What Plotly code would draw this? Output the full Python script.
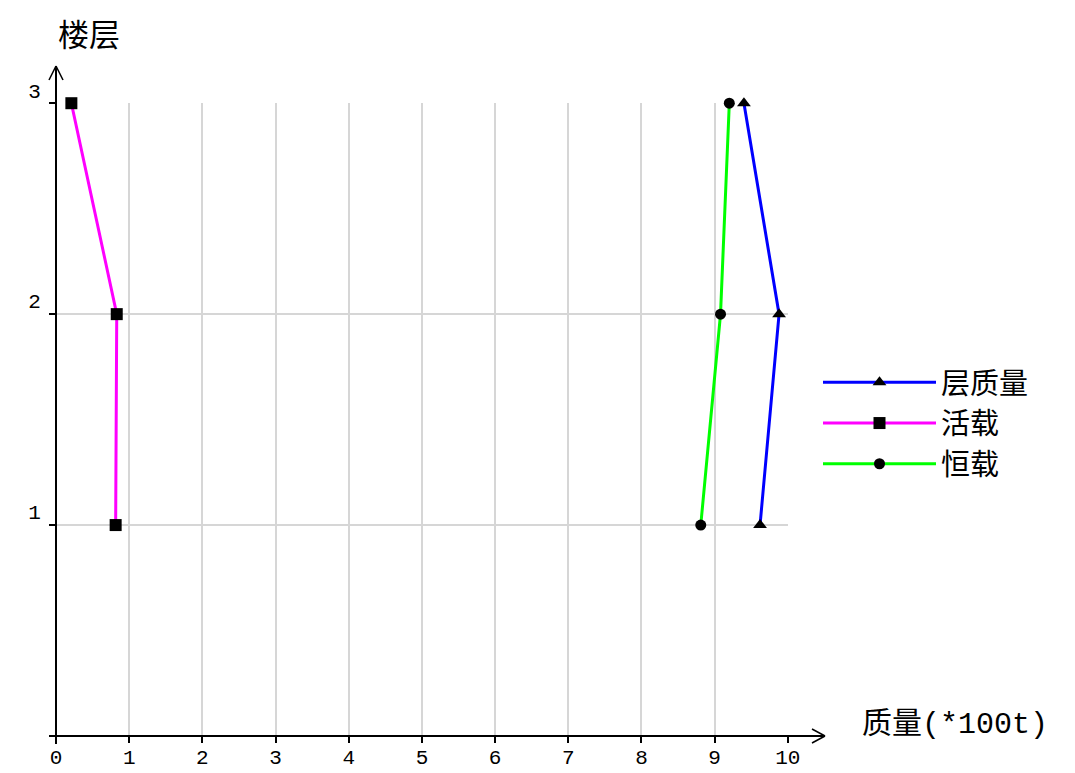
import plotly.graph_objects as go

floors = [1, 2, 3]
floor_mass = [9.62, 9.88, 9.40]   # 层质量
live_load = [0.815, 0.83, 0.21]   # 活载
dead_load = [8.81, 9.08, 9.20]    # 恒载
x_ticks = list(range(0, 11))
y_ticks = [1, 2, 3]

OFF = 8  # browser body margin
W, H = 1075 - OFF, 773 - OFF
# screen coordinates of plot area
SX0, SX1, SY0, SY1 = 56, 788, 103, 736
L, T = SX0 - OFF, SY0 - OFF
R = W - (SX1 - OFF)
B = H - (SY1 - OFF)
pw, ph = SX1 - SX0, SY1 - SY0

def px(xs):
    return (xs - SX0) / pw

def py(ys):
    return (SY1 - ys) / ph

fig = go.Figure()
fig.add_trace(go.Scatter(x=floor_mass, y=floors, name="层质量", mode="lines+markers",
                         line=dict(color="#0000ff", width=3),
                         marker=dict(symbol="triangle-up", size=12, color="black"), cliponaxis=False))
fig.add_trace(go.Scatter(x=live_load, y=floors, name="活载", mode="lines+markers",
                         line=dict(color="#ff00ff", width=3),
                         marker=dict(symbol="square", size=12, color="black"), cliponaxis=False))
fig.add_trace(go.Scatter(x=dead_load, y=floors, name="恒载", mode="lines+markers",
                         line=dict(color="#00ff00", width=3),
                         marker=dict(symbol="circle", size=11, color="black"), cliponaxis=False))

tickfont = dict(family="Liberation Mono, DejaVu Sans Mono, monospace", size=21, color="black")
fig.update_xaxes(range=[0, 10.002], tickvals=x_ticks, ticktext=[str(v) for v in x_ticks],
                 showgrid=True, gridcolor="#d6d6d6", gridwidth=1.5, zeroline=False,
                 showline=False, ticks="outside", ticklen=6, tickcolor="black", tickwidth=2,
                 tickfont=tickfont, ticklabelstandoff=-4, automargin=False)
fig.update_yaxes(range=[0, 3.001], tickvals=y_ticks, ticktext=[str(v) for v in y_ticks],
                 showgrid=True, gridcolor="#d6d6d6", gridwidth=1.5, zeroline=False,
                 showline=False, ticks="outside", ticklen=6, tickcolor="black", tickwidth=2,
                 tickfont=tickfont, ticklabelshift=-13, ticklabelstandoff=4, automargin=False)

shapes = []
lc = dict(color="black", width=2)
thin = dict(color="black", width=1.5)
# x axis with arrow
shapes.append(dict(type="line", xref="paper", yref="paper", x0=px(49), x1=px(825), y0=py(736), y1=py(736), line=lc))
shapes.append(dict(type="line", xref="paper", yref="paper", x0=px(812), x1=px(825), y0=py(729), y1=py(736), line=thin))
shapes.append(dict(type="line", xref="paper", yref="paper", x0=px(812), x1=px(825), y0=py(743), y1=py(736), line=thin))
# y axis with arrow
shapes.append(dict(type="line", xref="paper", yref="paper", x0=px(56), x1=px(56), y0=py(744), y1=py(66), line=lc))
shapes.append(dict(type="line", xref="paper", yref="paper", x0=px(49), x1=px(56), y0=py(80), y1=py(66), line=thin))
shapes.append(dict(type="line", xref="paper", yref="paper", x0=px(63), x1=px(56), y0=py(80), y1=py(66), line=thin))

cjk = "Noto Sans CJK SC"
annotations = [
    dict(text="楼层", xref="paper", yref="paper", x=px(56), y=py(32), showarrow=False,
         font=dict(family=cjk, size=31, color="black"), xanchor="left", yanchor="middle"),
    dict(text='质量<span style="font-family:Liberation Mono">(*100t)</span>',
         xref="paper", yref="paper", x=px(860), y=py(720), showarrow=False,
         font=dict(family=cjk, size=30, color="black"), xanchor="left", yanchor="middle"),
]

fig.update_layout(
    width=W, height=H,
    margin=dict(l=L, r=R, t=T, b=B, pad=0, autoexpand=False),
    paper_bgcolor="white", plot_bgcolor="white",
    shapes=shapes, annotations=annotations,
    legend=dict(x=px(818), y=py(357), xanchor="left", yanchor="top",
                font=dict(family=cjk, size=29, color="black"),
                itemwidth=113, tracegroupgap=0, bgcolor="rgba(0,0,0,0)"),
    showlegend=True,
)

fig.write_html("out.html")
